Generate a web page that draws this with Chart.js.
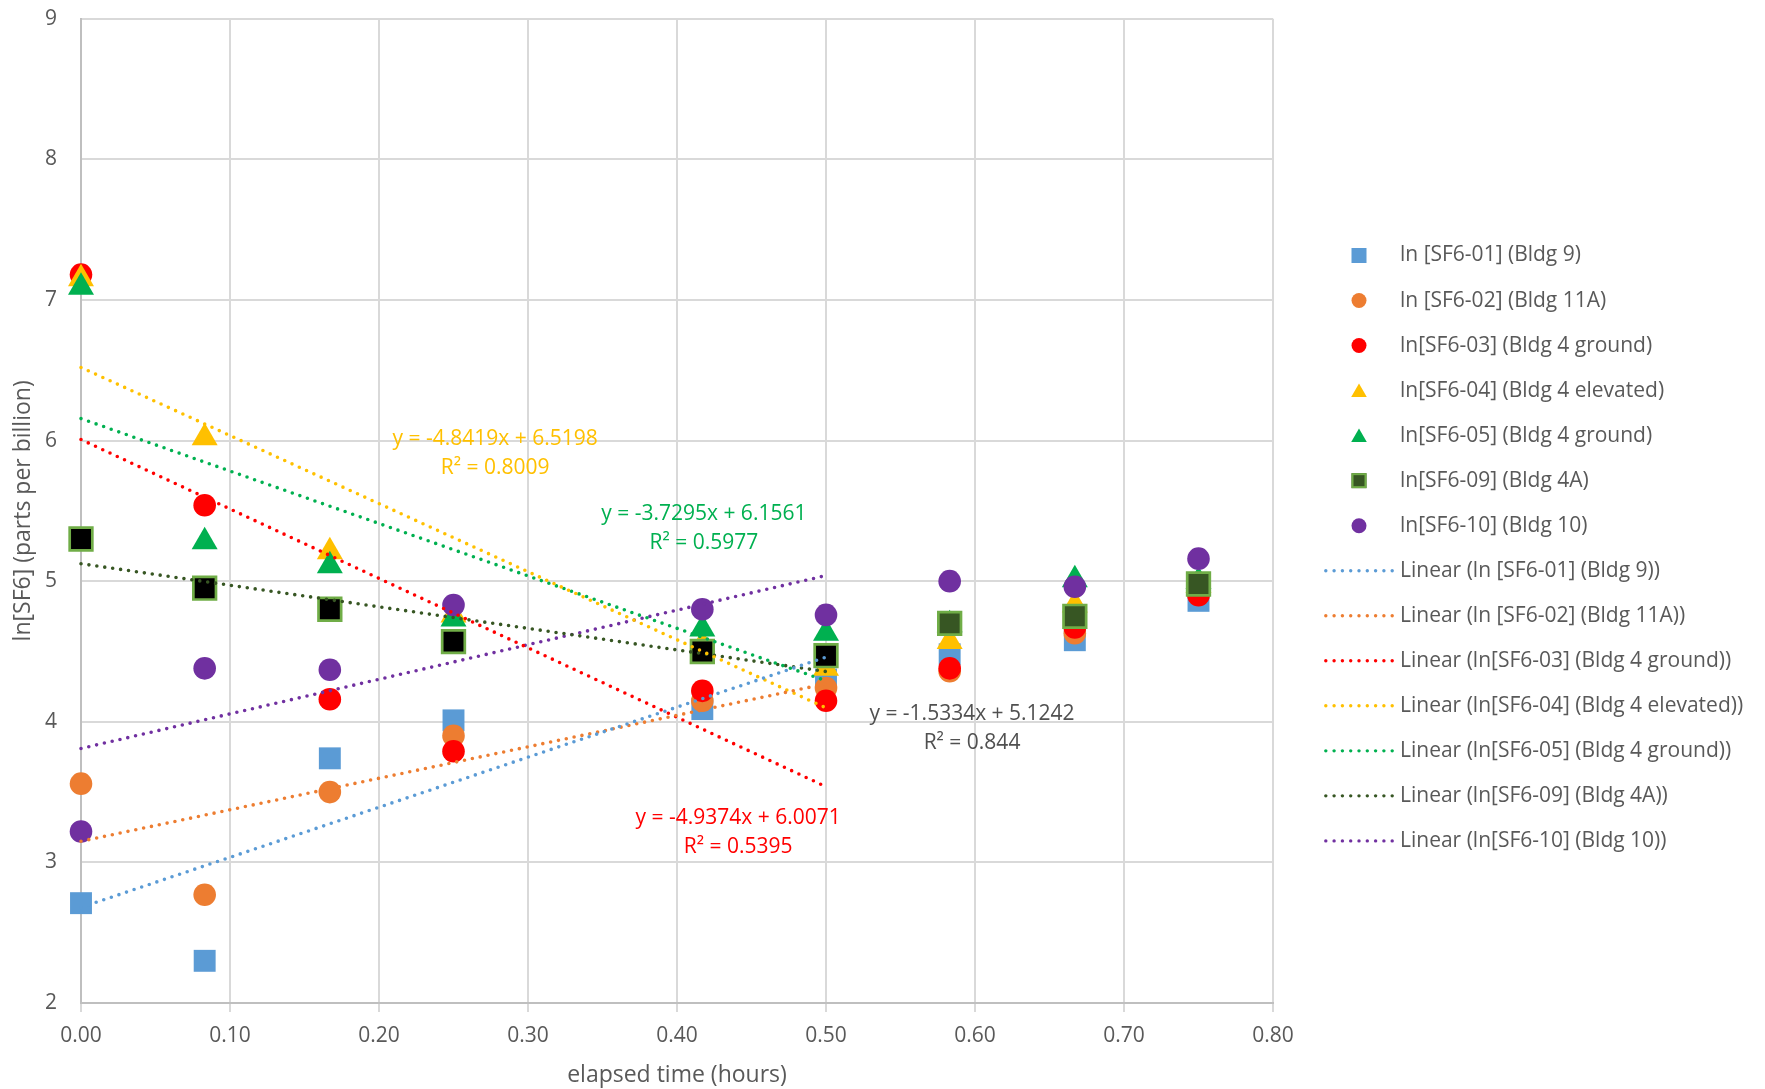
<!DOCTYPE html>
<html>
<head>
<meta charset="utf-8">
<script src="https://cdn.jsdelivr.net/npm/chart.js@4/dist/chart.umd.min.js"></script>
<style>
  html, body { margin: 0; padding: 0; background: #ffffff; }
  canvas { display: block; }
</style>
</head>
<body>
<canvas id="sf6" width="1765" height="1089"></canvas>
<script>
// Sampling times (hours after release)
const hours = [0, 0.083, 0.167, 0.25, 0.417, 0.5, 0.583, 0.667, 0.75];

// ln of SF6 concentration (ppb) per sampler
const sf601 = [2.71, 2.30, 3.74, 4.01, 4.09, 4.30, 4.48, 4.58, 4.86];
const sf602 = [3.56, 2.77, 3.50, 3.90, 4.15, 4.24, 4.36, 4.63, 4.91];
const sf603 = [7.18, 5.54, 4.16, 3.79, 4.22, 4.15, 4.38, 4.67, 4.90];
const sf604 = [7.15, 6.02, 5.21, 4.76, 4.55, 4.38, 4.57, 4.83, 4.97];
const sf605 = [7.09, 5.28, 5.11, 4.73, 4.66, 4.63, 4.69, 5.01, 5.00];
const sf609 = [5.30, 4.95, 4.80, 4.57, 4.50, 4.47, 4.70, 4.75, 4.98];
const sf610 = [3.22, 4.38, 4.37, 4.83, 4.80, 4.76, 5.00, 4.96, 5.16];

const seriesNames = [
  'ln [SF6-01] (Bldg 9)',
  'ln [SF6-02] (Bldg 11A)',
  'ln[SF6-03] (Bldg 4 ground)',
  'ln[SF6-04] (Bldg 4 elevated)',
  'ln[SF6-05] (Bldg 4 ground)',
  'ln[SF6-09] (Bldg 4A)',
  'ln[SF6-10] (Bldg 10)'
];

// Linear fits over the first half hour: value at 0 h and at 0.5 h
const trendX = [0, 0.5];
const trend01 = [2.68, 4.46];
const trend02 = [3.15, 4.27];
const trend03 = [6.0071, 3.5384];
const trend04 = [6.5198, 4.0989];
const trend05 = [6.1561, 4.2914];
const trend09 = [5.1242, 4.3575];
const trend10 = [3.81, 5.04];

// Fit equations shown on the plot
const equations = [
  ['y = -4.8419x + 6.5198', 'R² = 0.8009'],
  ['y = -3.7295x + 6.1561', 'R² = 0.5977'],
  ['y = -1.5334x + 5.1242', 'R² = 0.844'],
  ['y = -4.9374x + 6.0071', 'R² = 0.5395']
];

const xTickDecimals = 2;

// ---- styling ----
const C = {
  blue: '#5B9BD5', orange: '#ED7D31', red: '#FF0000', yellow: '#FFC000',
  green: '#00B050', dkgreen: '#375623', lime: '#70AD47', purple: '#7030A0',
  text: '#595959', grid: '#D9D9D9', axis: '#BFBFBF'
};
const FONT = '"Open Sans", "Liberation Sans", sans-serif';
const sf609Fill = ['#000000', '#000000', '#000000', '#000000', '#000000', '#000000', C.dkgreen, C.dkgreen, C.dkgreen];

// equation label anchors (data coordinates) and colours
const eqAnchors = [
  { x: 0.278, y: 6.009, color: C.yellow },
  { x: 0.418, y: 5.477, color: C.green },
  { x: 0.598, y: 4.057, color: '#505050' },
  { x: 0.441, y: 3.317, color: C.red }
];

const toPoints = (xs, ys) => xs.map((x, i) => ({ x, y: ys[i] }));

function markerSet(label, values, style, color, radius, order, extra) {
  return Object.assign({
    label, data: toPoints(hours, values), showLine: false, clip: false,
    pointStyle: style, pointRadius: radius, pointHoverRadius: radius,
    backgroundColor: color, borderColor: color, borderWidth: 0,
    pointBackgroundColor: color, pointBorderColor: color, pointBorderWidth: 0,
    order
  }, extra || {});
}

function trendSet(label, values, color) {
  return {
    label, data: toPoints(trendX, values), showLine: true, fill: false, clip: false,
    borderColor: color, backgroundColor: color, borderWidth: 3.6,
    borderDash: [0, 8], borderCapStyle: 'round',
    pointRadius: 0, pointHoverRadius: 0, order: 0, isTrend: true
  };
}

const datasets = [
  markerSet(seriesNames[0], sf601, 'rect', C.blue, 15.5, 7),
  markerSet(seriesNames[1], sf602, 'circle', C.orange, 11.3, 6),
  markerSet(seriesNames[2], sf603, 'circle', C.red, 11.3, 5),
  markerSet(seriesNames[3], sf604, 'triangle', C.yellow, 15, 4),
  markerSet(seriesNames[4], sf605, 'triangle', C.green, 15, 3),
  markerSet(seriesNames[5], sf609, 'rect', C.dkgreen, 16, 2, {
    pointBackgroundColor: sf609Fill, pointBorderColor: C.lime, pointBorderWidth: 2.7,
    legendFill: C.dkgreen, legendBorder: C.lime
  }),
  markerSet(seriesNames[6], sf610, 'circle', C.purple, 11.3, 1),
  trendSet('Linear (' + seriesNames[0] + ')', trend01, C.blue),
  trendSet('Linear (' + seriesNames[1] + ')', trend02, C.orange),
  trendSet('Linear (' + seriesNames[2] + ')', trend03, C.red),
  trendSet('Linear (' + seriesNames[3] + ')', trend04, C.yellow),
  trendSet('Linear (' + seriesNames[4] + ')', trend05, C.green),
  trendSet('Linear (' + seriesNames[5] + ')', trend09, C.dkgreen),
  trendSet('Linear (' + seriesNames[6] + ')', trend10, C.purple)
];

// ---- legend drawn at the right of the plot ----
const LEGEND = { iconX: 1359, textX: 1400, top: 255.5, step: 45.03 };

function drawLegendIcon(ctx, ds, cx, cy) {
  ctx.save();
  if (ds.isTrend) {
    ctx.fillStyle = ds.borderColor;
    for (let k = 0; k < 9; k++) {
      ctx.beginPath();
      ctx.arc(cx - 33.2 + k * 8.3, cy, 1.7, 0, Math.PI * 2);
      ctx.fill();
    }
  } else {
    const fill = ds.legendFill || ds.backgroundColor;
    ctx.fillStyle = fill;
    if (ds.pointStyle === 'rect') {
      ctx.fillRect(cx - 7.5, cy - 7.5, 15, 15);
      if (ds.legendBorder) {
        ctx.strokeStyle = ds.legendBorder;
        ctx.lineWidth = 2;
        ctx.strokeRect(cx - 6.5, cy - 6.5, 13, 13);
      }
    } else if (ds.pointStyle === 'circle') {
      ctx.beginPath();
      ctx.arc(cx, cy, 7.5, 0, Math.PI * 2);
      ctx.fill();
    } else if (ds.pointStyle === 'triangle') {
      ctx.beginPath();
      ctx.moveTo(cx, cy - 7);
      ctx.lineTo(cx + 7.8, cy + 6.5);
      ctx.lineTo(cx - 7.8, cy + 6.5);
      ctx.closePath();
      ctx.fill();
    }
  }
  ctx.restore();
}

const sideLegend = {
  id: 'sideLegend',
  afterDraw(chart) {
    const ctx = chart.ctx;
    ctx.save();
    ctx.font = '21px ' + FONT;
    ctx.textBaseline = 'middle';
    ctx.textAlign = 'left';
    chart.data.datasets.forEach((ds, i) => {
      const y = LEGEND.top + i * LEGEND.step;
      drawLegendIcon(ctx, ds, LEGEND.iconX, y);
      ctx.fillStyle = C.text;
      ctx.fillText(ds.label, LEGEND.textX, y);
    });
    ctx.restore();
  }
};

// ---- fit equation labels ----
const fitLabels = {
  id: 'fitLabels',
  afterDatasetsDraw(chart) {
    const ctx = chart.ctx;
    const xs = chart.scales.x, ys = chart.scales.y;
    ctx.save();
    ctx.font = '21px ' + FONT;
    ctx.textAlign = 'center';
    ctx.textBaseline = 'middle';
    equations.forEach((lines, i) => {
      const a = eqAnchors[i];
      const px = xs.getPixelForValue(a.x);
      const py = ys.getPixelForValue(a.y);
      ctx.fillStyle = a.color;
      lines.forEach((t, k) => ctx.fillText(t, px, py + k * 29));
    });
    ctx.restore();
  }
};

new Chart(document.getElementById('sf6'), {
  type: 'scatter',
  data: { datasets },
  plugins: [fitLabels, sideLegend],
  options: {
    responsive: false,
    devicePixelRatio: 1,
    animation: false,
    events: [],
    layout: { padding: { left: 0, top: 14.6, right: 492, bottom: 0 } },
    plugins: {
      legend: { display: false },
      tooltip: { enabled: false },
      title: { display: false }
    },
    scales: {
      x: {
        type: 'linear', min: 0, max: 0.8,
        ticks: {
          stepSize: 0.1, padding: 11, color: C.text,
          font: { family: FONT, size: 21 },
          callback: v => Number(v).toFixed(xTickDecimals)
        },
        grid: { color: C.grid, lineWidth: 2, drawTicks: true, tickLength: 9, tickColor: C.grid },
        border: { color: C.axis, width: 2 },
        title: {
          display: true, text: 'elapsed time (hours)', color: C.text,
          font: { family: FONT, size: 23 }, padding: { top: 0, bottom: 0 }
        },
        afterFit: s => { s.height = 86; s.paddingLeft = 0; s.paddingRight = 0; }
      },
      y: {
        type: 'linear', min: 2, max: 9,
        ticks: {
          stepSize: 1, padding: 24, color: C.text,
          font: { family: FONT, size: 21 }
        },
        grid: { color: C.grid, lineWidth: 2, drawTicks: false },
        border: { color: C.axis, width: 2 },
        title: {
          display: true, text: 'ln[SF6] (parts per billion)', color: C.text,
          font: { family: FONT, size: 23 }, padding: { top: 10, bottom: 0 }
        },
        afterFit: s => { s.width = 81; s.paddingTop = 0; s.paddingBottom = 0; }
      }
    }
  }
});
</script>
</body>
</html>
